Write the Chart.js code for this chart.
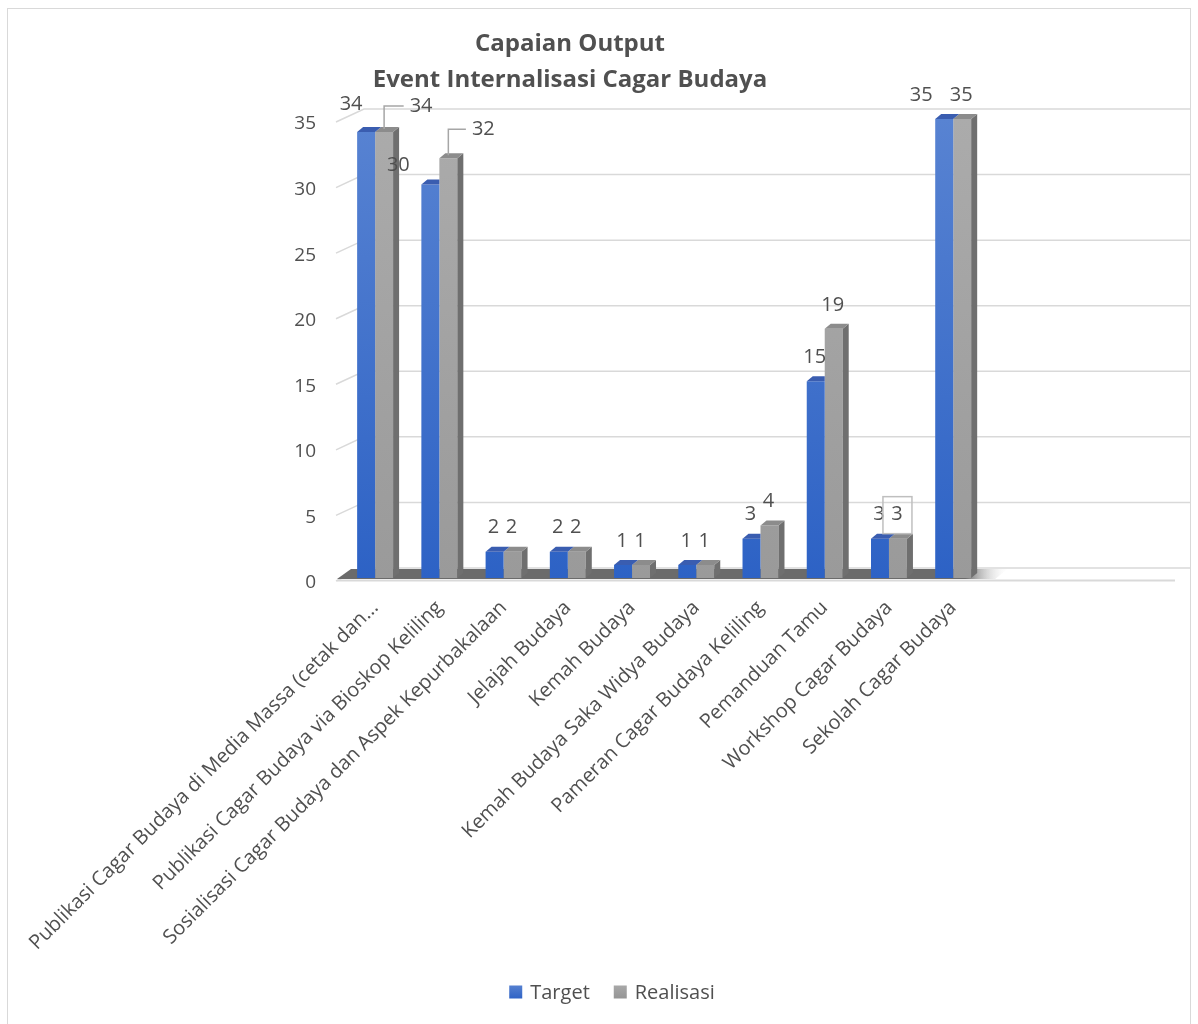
<!DOCTYPE html>
<html>
<head>
<meta charset="utf-8">
<script src="https://cdn.jsdelivr.net/npm/chart.js@4/dist/chart.umd.min.js"></script>
<style>
  html, body { margin: 0; padding: 0; background: #ffffff; }
  #wrap { width: 1198px; height: 1024px; position: relative; }
</style>
</head>
<body>
<div id="wrap"><canvas id="c" width="1198" height="1024"></canvas></div>
<script>
// ---------- DATA ----------
const categories = [
  'Publikasi Cagar Budaya di Media Massa (cetak dan...',
  'Publikasi Cagar Budaya via Bioskop Keliling',
  'Sosialisasi Cagar Budaya dan Aspek Kepurbakalaan',
  'Jelajah Budaya',
  'Kemah Budaya',
  'Kemah Budaya Saka Widya Budaya',
  'Pameran Cagar Budaya Keliling',
  'Pemanduan Tamu',
  'Workshop Cagar Budaya',
  'Sekolah Cagar Budaya',
  '', '', ''
];
const targetValues    = [34, 30, 2, 2, 1, 1, 3, 15, 3, 35];
const realisasiValues = [34, 32, 2, 2, 1, 1, 4, 19, 3, 35];
const seriesNames = ['Target', 'Realisasi'];
const yTickValues = [0, 5, 10, 15, 20, 25, 30, 35];
const titleLines = ['Capaian Output', 'Event Internalisasi Cagar Budaya'];

// ---------- STYLE ----------
const FONT = "'Open Sans', 'DejaVu Sans', sans-serif";
const TEXT = '#505050';
const GRID = '#d9d9d9';
const BAR_DX = 6, BAR_DY = 5;
const WALL_DX = 21, WALL_DY = 10;

// label placement tweaks (dataset-index -> [dx, dy]) like Excel's moved labels
const labelTweaks = {
  '0-0': [-14, -4], '1-0': [38, -2],
  '0-1': [-31, 5],  '1-1': [36, -5],
  '0-9': [-22, 0]
};
const labelLeaders = { '1-0': true, '1-1': true };
const labelBoxed = { '1-8': true };

function gradFront(ctx, stops) {
  const chart = ctx.chart;
  const area = chart.chartArea;
  if (!area) return stops[stops.length - 1];
  const g = chart.ctx.createLinearGradient(0, area.top, 0, area.bottom);
  g.addColorStop(0, stops[0]);
  g.addColorStop(1, stops[1]);
  return g;
}

const backdropPlugin = {
  id: 'backdrop',
  beforeDraw(chart) {
    const c = chart.ctx;
    c.save();
    c.strokeStyle = '#d9d9d9';
    c.lineWidth = 1;
    c.strokeRect(7.5, 8.5, 1183, 1040);
    c.restore();
  },
  beforeDatasetsDraw(chart) {
    const c = chart.ctx;
    const y = chart.scales.y;
    const x = chart.scales.x;
    const area = chart.chartArea;
    c.save();
    c.strokeStyle = GRID;
    c.lineWidth = 1.5;
    yTickValues.forEach(v => {
      const py = y.getPixelForValue(v);
      c.beginPath();
      c.moveTo(area.left - 7, py + 3);
      c.lineTo(area.left + WALL_DX, py - WALL_DY);
      c.lineTo(1190, py - WALL_DY);
      c.stroke();
    });
    const base = y.getPixelForValue(0);
    const lastIdx = targetValues.length - 1;
    const step = x.getPixelForValue(1) - x.getPixelForValue(0);
    const endX = x.getPixelForValue(lastIdx) + step / 2;
    const fg = c.createLinearGradient(endX - 20, 0, endX + 25, 0);
    fg.addColorStop(0, '#6b6b6b');
    fg.addColorStop(1, 'rgba(255,255,255,0)');
    c.fillStyle = fg;
    c.beginPath();
    c.moveTo(area.left - 6, base + 1);
    c.lineTo(endX + 10, base + 1);
    c.lineTo(endX + 22, base - 9);
    c.lineTo(area.left + 8, base - 9);
    c.closePath();
    c.fill();
    c.strokeStyle = GRID;
    c.lineWidth = 2;
    c.beginPath();
    c.moveTo(area.left - 6, base + 2.5);
    c.lineTo(1175, base + 2.5);
    c.stroke();
    c.restore();
  },
  afterDatasetsDraw(chart) {
    const c = chart.ctx;
    const m0 = chart.getDatasetMeta(0);
    const m1 = chart.getDatasetMeta(1);
    c.save();
    for (let j = 0; j < m0.data.length; j++) {
      const b = m0.data[j].getProps(['x', 'y', 'base', 'width'], true);
      const g = m1.data[j] ? m1.data[j].getProps(['x', 'y', 'base', 'width'], true) : null;
      if (g) {
        const gl = g.x - g.width / 2, gr = g.x + g.width / 2;
        c.fillStyle = '#6f6f6f';
        c.beginPath();
        c.moveTo(gr, g.y); c.lineTo(gr + BAR_DX, g.y - BAR_DY);
        c.lineTo(gr + BAR_DX, g.base - BAR_DY); c.lineTo(gr, g.base);
        c.closePath(); c.fill();
        c.fillStyle = '#8c8c8c';
        c.beginPath();
        c.moveTo(gl, g.y); c.lineTo(gr, g.y);
        c.lineTo(gr + BAR_DX, g.y - BAR_DY); c.lineTo(gl + BAR_DX, g.y - BAR_DY);
        c.closePath(); c.fill();
      }
      const bl = b.x - b.width / 2, br = b.x + b.width / 2;
      c.save();
      if (g && g.y < b.y) {
        c.beginPath(); c.rect(0, 0, br, 2000); c.clip();
      }
      c.fillStyle = '#3a5db0';
      c.beginPath();
      c.moveTo(bl, b.y); c.lineTo(br, b.y);
      c.lineTo(br + BAR_DX, b.y - BAR_DY); c.lineTo(bl + BAR_DX, b.y - BAR_DY);
      c.closePath(); c.fill();
      c.restore();
    }
    c.font = '20px ' + FONT;
    c.fillStyle = TEXT;
    c.textAlign = 'center';
    c.textBaseline = 'middle';
    [m0, m1].forEach((meta, di) => {
      const vals = chart.data.datasets[di].data;
      meta.data.forEach((el, j) => {
        if (vals[j] === undefined || vals[j] === null) return;
        const p = el.getProps(['x', 'y', 'width'], true);
        const key = di + '-' + j;
        const tw = labelTweaks[key] || [0, 0];
        const lx = p.x - 1 + tw[0];
        const ly = p.y - 24 + tw[1];
        const txt = String(vals[j]);
        c.fillStyle = TEXT;
        c.fillText(txt, lx, ly);
        const w = c.measureText(txt).width;
        if (labelLeaders[key]) {
          c.strokeStyle = '#a6a6a6';
          c.lineWidth = 1.5;
          c.beginPath();
          c.moveTo(lx - w / 2 - 6, ly);
          c.lineTo(p.x, ly);
          c.lineTo(p.x, p.y - 3);
          c.stroke();
        }
        if (labelBoxed[key]) {
          c.strokeStyle = '#bfbfbf';
          c.lineWidth = 1.5;
          c.strokeRect(lx - 14, ly - 18, 29, 37);
        }
      });
    });
    c.restore();
  },
  afterDraw(chart) {
    const c = chart.ctx;
    c.save();
    c.fillStyle = TEXT;
    c.font = 'bold 24px ' + FONT;
    c.textAlign = 'center';
    c.textBaseline = 'middle';
    c.fillText(titleLines[0], 570, 44);
    c.fillText(titleLines[1], 570, 80);
    c.font = '20px ' + FONT;
    c.textAlign = 'left';
    const box = 13, gapBox = 8, gapItem = 24;
    const widths = seriesNames.map(n => c.measureText(n).width);
    const total = widths.reduce((a, w) => a + box + gapBox + w, 0) + gapItem;
    let lx = 612 - total / 2;
    const ly = 992;
    const fills = [['#5580d0', '#2f63c6'], ['#a8a8a8', '#959595']];
    seriesNames.forEach((n, i) => {
      const g = c.createLinearGradient(0, ly - box / 2, 0, ly + box / 2);
      g.addColorStop(0, fills[i][0]); g.addColorStop(1, fills[i][1]);
      c.fillStyle = g;
      c.fillRect(lx, ly - box / 2, box, box);
      c.fillStyle = TEXT;
      c.fillText(n, lx + box + gapBox, ly + 1);
      lx += box + gapBox + widths[i] + gapItem;
    });
    c.restore();
  }
};

new Chart(document.getElementById('c'), {
  type: 'bar',
  data: {
    labels: categories,
    datasets: [
      {
        label: seriesNames[0],
        data: targetValues,
        backgroundColor: ctx => gradFront(ctx, ['#5883d2', '#2d62c5']),
        borderWidth: 0
      },
      {
        label: seriesNames[1],
        data: realisasiValues,
        backgroundColor: ctx => gradFront(ctx, ['#ababab', '#9a9a9a']),
        borderWidth: 0
      }
    ]
  },
  options: {
    responsive: false,
    animation: false,
    devicePixelRatio: 1,
    layout: { padding: { top: 119, right: 20, bottom: 0, left: 0 } },
    categoryPercentage: 0.56,
    barPercentage: 1.0,
    plugins: {
      legend: { display: false },
      title: { display: false },
      tooltip: { enabled: false }
    },
    scales: {
      x: {
        grid: { display: false, drawTicks: false },
        border: { display: false },
        ticks: {
          autoSkip: false,
          maxRotation: 45,
          minRotation: 45,
          padding: 18,
          labelOffset: 0,
          color: TEXT,
          font: { family: FONT, size: 20 }
        },
        afterFit(s) {
          s.height = 1024 - 578;
          s.paddingLeft = 0;
          s.paddingRight = 0;
        }
      },
      y: {
        min: 0,
        max: 35,
        grid: { display: false, drawTicks: false },
        border: { display: false },
        ticks: {
          stepSize: 5,
          padding: 27,
          labelOffset: 5,
          color: TEXT,
          font: { family: FONT, size: 19 }
        },
        afterFit(s) {
          s.width = 343;
          s.paddingTop = 0;
          s.paddingBottom = 0;
        }
      }
    }
  },
  plugins: [backdropPlugin]
});
</script>
</body>
</html>
